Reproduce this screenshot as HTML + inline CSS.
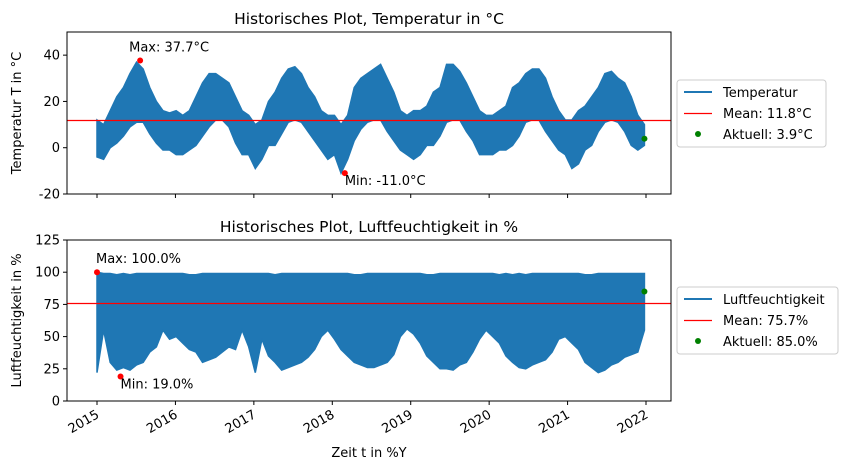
<!DOCTYPE html>
<html><head><meta charset="utf-8"><style>
body{margin:0;background:#fff;font-family:"Liberation Sans","DejaVu Sans",sans-serif}
svg text{font-family:"DejaVu Sans","Liberation Sans",sans-serif;font-size:13px;fill:#000}
</style></head><body>
<svg id="c" width="846" height="470" xmlns="http://www.w3.org/2000/svg"></svg>
<script>
const years=[2015,2016,2017,2018,2019,2020,2021,2022];
const tempTicks=[-20,0,20,40];
const humTicks=[0,25,50,75,100,125];
const tempHi=[12,10,16,22,26,32,37,34,26,20,16,15, 16,14,16,22,28,32,32,30,28,22,16,14, 10,12,20,24,30,34,35,32,26,22,16,14, 14,10,14,26,30,32,34,36,30,24,16,14, 16,16,18,24,26,36,36,33,28,22,16,14, 14,16,18,26,28,32,34,34,30,22,16,12, 12,16,18,22,26,32,33,30,28,22,14,10];
const tempLo=[-4,-5,0,2,5,9,11,11,6,2,-1,-1, -3,-3,-1,1,5,9,12,12,9,2,-3,-3, -9,-5,1,1,6,11,12,11,7,3,-1,-5, -3,-11,-5,3,8,11,12,12,7,3,-1,-3, -5,-3,1,1,5,11,12,12,7,3,-3,-3, -3,-1,-1,1,5,11,12,12,7,3,-1,-3, -9,-7,-1,1,7,11,12,11,7,1,-1,1];
const humHi=[100,99,99,98,99,98,99,99,99,99,99,99, 99,99,98,98,99,99,99,99,99,99,99,99, 99,99,99,98,99,99,99,99,99,99,99,99, 99,99,99,98,98,99,99,99,99,99,99,99, 99,99,98,98,99,99,99,99,99,99,99,99, 99,98,99,98,99,98,99,99,99,99,99,99, 99,99,98,98,99,99,99,99,99,99,99,99];
const humLo=[22,55,30,24,26,24,28,30,38,42,55,48, 50,45,40,38,30,32,34,38,42,40,55,42, 22,48,35,30,24,26,28,30,34,40,50,55, 48,40,35,30,28,26,26,28,30,36,50,56, 52,45,35,30,25,25,24,28,30,38,48,55, 50,45,35,30,26,25,28,30,32,38,48,50, 45,40,30,26,22,24,28,30,34,36,38,55];
const tempStats={max:37.7,maxT:2015.55,min:-11.0,minT:2018.16,mean:11.8,cur:3.9,curT:2021.98};
const humStats={max:100.0,maxT:2015.0,min:19.0,minT:2015.3,mean:75.7,cur:85.0,curT:2021.98};
const NS="http://www.w3.org/2000/svg",svg=document.getElementById('c');
function el(t,a,p){const e=document.createElementNS(NS,t);for(const k in a)e.setAttribute(k,a[k]);(p||svg).appendChild(e);return e;}
const X0=67,X1=671;
const xs=t=>97+(t-2015)*78.43;
const tOf=i=>2015+i*(6.98/83);
function panel(top,bot,ymin,ymax,hi,lo,ticks,st,unit,title,ylabel,name,legName,showX){
  const ys=v=>bot-(v-ymin)/(ymax-ymin)*(bot-top);
  let d='';
  hi.forEach((v,i)=>{d+=(i?'L':'M')+xs(tOf(i))+' '+ys(v);});
  for(let i=lo.length-1;i>=0;i--)d+='L'+xs(tOf(i))+' '+ys(lo[i]);
  const band=el('path',{d:d+'Z',fill:'#1f77b4',stroke:'#1f77b4','stroke-width':1.5,'stroke-linejoin':'miter'});
  
  
  const my=Math.round(ys(st.mean))+0.5;
  const ml=el('line',{x1:X0,x2:X1,y1:my,y2:my,stroke:'#ff0000','stroke-width':1.2});
  
  
  const mx=el('circle',{cx:xs(st.maxT),cy:ys(st.max),r:3,fill:'red'});
  
  
  const mn=el('circle',{cx:xs(st.minT),cy:ys(st.min),r:3,fill:'red'});
  
  
  const cu=el('circle',{cx:xs(st.curT),cy:ys(st.cur),r:3,fill:'green'});
  
  
  const tmax=el('text',{x:xs(st.maxT)-1,y:ys(st.max)-9,'text-anchor':'start'});
  tmax.textContent='Max: '+st.max.toFixed(1)+unit;
  if(name==='temp')tmax.setAttribute('x',xs(st.maxT)-11);
  
  
  const tmin=el('text',{x:xs(st.minT),y:ys(st.min)+12});
  tmin.textContent='Min: '+st.min.toFixed(1)+unit;
  
  
  el('rect',{x:X0,y:top,width:X1-X0,height:bot-top,fill:'none',stroke:'#000','stroke-width':1});
  ticks.forEach(v=>{
    el('line',{x1:X0-4,x2:X0,y1:ys(v),y2:ys(v),stroke:'#000'});
    const t=el('text',{x:X0-7,y:ys(v)+4.5,'text-anchor':'end'});t.textContent=v;
    
    
  });
  years.forEach(y=>{
    el('line',{x1:xs(y),x2:xs(y),y1:bot,y2:bot+4,stroke:'#000'});
    if(showX){const t=el('text',{x:xs(y)+3,y:bot+16,'text-anchor':'end',transform:`rotate(-30 ${xs(y)+3} ${bot+16})`});t.textContent=y;
    
    }
  });
  const tt=el('text',{x:369,y:top-8,'text-anchor':'middle'});tt.style.fontSize='15.5px';tt.textContent=title;
  
  
  const cy=(top+bot)/2;
  const yl=el('text',{x:21,y:cy,'text-anchor':'middle',transform:`rotate(-90 21 ${cy})`});yl.textContent=ylabel;
  
  
  const lw=name==='temp'?149:161, ly=name==='temp'?80:287;
  const g=el('g',{});
  
  
  el('rect',{x:677,y:ly,width:lw,height:67,rx:3,fill:'#fff',stroke:'#ccc'},g);
  el('line',{x1:684,x2:712,y1:ly+12,y2:ly+12,stroke:'#1f77b4','stroke-width':2},g);
  el('line',{x1:684,x2:712,y1:ly+33.5,y2:ly+33.5,stroke:'#ff0000','stroke-width':1.2},g);
  el('circle',{cx:698,cy:ly+54,r:3,fill:'green'},g);
  [legName,'Mean: '+st.mean.toFixed(1)+unit,'Aktuell: '+st.cur.toFixed(1)+unit].forEach((s,i)=>{
    const t=el('text',{x:723,y:ly+17+i*21},g);t.textContent=s;
    
    
  });
}
panel(32,194,-20,50,tempHi,tempLo,tempTicks,tempStats,'°C','Historisches Plot, Temperatur in °C','Temperatur T in °C','temp','Temperatur',false);
panel(240,401,0,125,humHi,humLo,humTicks,humStats,'%','Historisches Plot, Luftfeuchtigkeit in %','Luftfeuchtigkeit  in %','hum','Luftfeuchtigkeit',true);
const xl=el('text',{x:369,y:457,'text-anchor':'middle'});xl.textContent='Zeit t in %Y';


</script>
</body></html>
